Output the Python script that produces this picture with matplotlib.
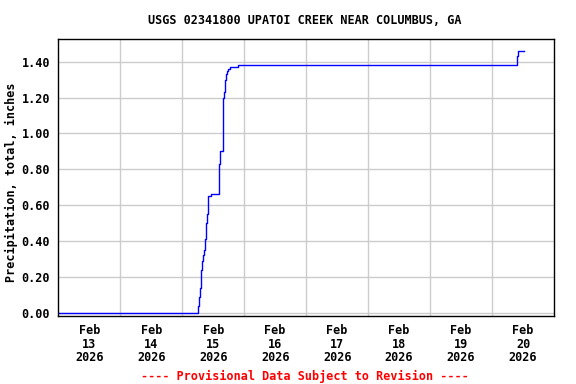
import matplotlib
matplotlib.use("Agg")
import matplotlib.pyplot as plt
import pandas as pd

# ---- data ----
times = [
    "2026-02-13 00:00", "2026-02-15 06:15", "2026-02-15 06:35", "2026-02-15 07:00",
    "2026-02-15 07:25", "2026-02-15 07:45", "2026-02-15 08:10", "2026-02-15 08:35",
    "2026-02-15 08:55", "2026-02-15 09:20", "2026-02-15 09:40", "2026-02-15 10:05",
    "2026-02-15 11:15", "2026-02-15 14:20", "2026-02-15 14:45", "2026-02-15 15:55",
    "2026-02-15 16:20", "2026-02-15 16:40", "2026-02-15 17:05", "2026-02-15 17:30",
    "2026-02-15 17:50", "2026-02-15 18:35", "2026-02-15 21:45", "2026-02-20 09:45",
    "2026-02-20 10:10", "2026-02-20 12:30",
]
precip = [
    0.00, 0.04, 0.09, 0.14,
    0.24, 0.29, 0.32, 0.35,
    0.41, 0.50, 0.55, 0.65,
    0.66, 0.83, 0.90, 1.20,
    1.23, 1.30, 1.33, 1.35,
    1.36, 1.37, 1.38, 1.43,
    1.46, 1.46,
]
day_numbers = ["13", "14", "15", "16", "17", "18", "19", "20"]
y_ticks = [0.0, 0.2, 0.4, 0.6, 0.8, 1.0, 1.2, 1.4]

title = "USGS 02341800 UPATOI CREEK NEAR COLUMBUS, GA"
ylabel = "Precipitation, total, inches"
footer = "---- Provisional Data Subject to Revision ----"

FONT = "DejaVu Sans Mono"
FS = 8.5

t = pd.to_datetime(times)
fig = plt.figure(figsize=(5.76, 3.84), dpi=100)
ax = fig.add_axes([58.3 / 576, 1 - 316 / 384, (554 - 58.3) / 576, (316 - 39.3) / 384])

ax.plot(t, precip, drawstyle="steps-post", color="#0000ff", lw=1.0)

x0 = pd.Timestamp("2026-02-13 00:00")
x1 = pd.Timestamp("2026-02-21 00:00")
ax.set_xlim(x0, x1)
ax.set_ylim(-0.018, 1.525)

noon = [pd.Timestamp(f"2026-02-{d} 12:00") for d in day_numbers]
mids = [pd.Timestamp(f"2026-02-{d} 00:00") for d in day_numbers[1:]]
ax.set_xticks(noon)
ax.set_xticklabels([f"Feb\n{d}\n2026" for d in day_numbers], fontfamily=FONT,
                   fontweight="bold", fontsize=FS, linespacing=1.05)
ax.set_xticks(mids, minor=True)
ax.set_yticks(y_ticks)
ax.set_yticklabels([f"{v:.2f}" for v in y_ticks], fontfamily=FONT,
                   fontweight="bold", fontsize=FS)

ax.tick_params(axis="both", which="both", length=0)
ax.tick_params(axis="x", pad=6)
ax.tick_params(axis="y", pad=6)
ax.grid(False)
ax.yaxis.grid(True, which="major", color="#cccccc", lw=1.0)
ax.xaxis.grid(True, which="minor", color="#cccccc", lw=1.0)
ax.set_axisbelow(True)
for s in ax.spines.values():
    s.set_color("black")
    s.set_linewidth(1.0)

fig.text(11 / 576, 1 - 182 / 384, ylabel, rotation=90, ha="center", va="center",
         fontfamily=FONT, fontweight="bold", fontsize=FS)
fig.text(305 / 576, 1 - 20 / 384, title, ha="center", va="center",
         fontfamily=FONT, fontweight="bold", fontsize=FS)
fig.text(305 / 576, 1 - 376.5 / 384, footer, ha="center", va="center",
         fontfamily=FONT, fontweight="bold", fontsize=FS, color="#ff0000")

fig.savefig("out.png", dpi=100, facecolor="white")
